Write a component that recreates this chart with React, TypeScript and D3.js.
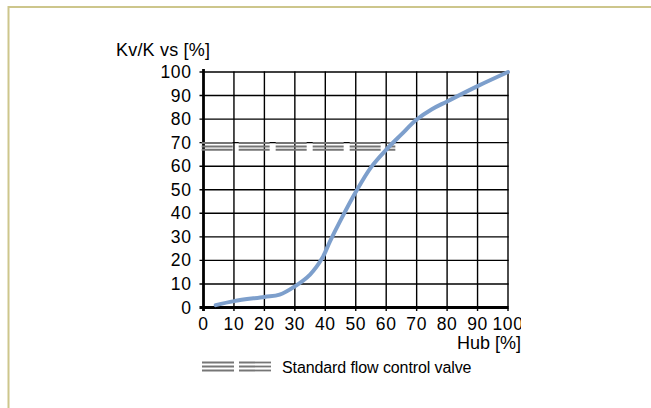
import { useEffect, useRef } from 'react'
import * as d3 from 'd3'

// Kv/Kvs characteristic
const hub = [4, 10, 20, 25, 30, 35, 39, 41.5, 45, 50, 55, 60, 65, 70, 75, 80, 90, 100]
const kv = [1, 2.7, 4.5, 5.5, 9, 14, 21, 28, 37, 49, 59.5, 67, 73.5, 79.8, 84.2, 87.5, 94, 100]

// Standard flow control valve band (three grey dashed lines)
const standardLevels = [69.8, 68.4, 67]
const standardEnd = 63

const xTicks = [0, 10, 20, 30, 40, 50, 60, 70, 80, 90, 100]
const yTicks = [0, 10, 20, 30, 40, 50, 60, 70, 80, 90, 100]

const W = 651
const H = 408
const font = '"Liberation Sans", Arial, Helvetica, sans-serif'

export default function App() {
  const svgRef = useRef<SVGSVGElement>(null)

  useEffect(() => {
    if (!svgRef.current) return
    document.body.style.margin = '0'
    const svg = d3.select(svgRef.current)
    svg.selectAll('*').remove()

    // frame (top and left edges only)
    svg.append('path')
      .attr('d', `M8.5,${H} L8.5,7 L${W},7`)
      .attr('fill', 'none')
      .attr('stroke', '#cdc68c')
      .attr('stroke-width', 2)

    const x = d3.scaleLinear().domain([0, 100]).range([203.5, 508])
    const y = d3.scaleLinear().domain([0, 100]).range([307.5, 72])

    svg.append('defs').append('clipPath').attr('id', 'cut')
      .append('rect').attr('x', 0).attr('y', 0).attr('width', 521).attr('height', H)

    const g = svg.append('g')

    // grid
    g.selectAll('.vx').data(xTicks.slice(1)).enter().append('line')
      .attr('x1', d => x(d)).attr('x2', d => x(d))
      .attr('y1', y(0)).attr('y2', y(100) - 0.6)
      .attr('stroke', '#000').attr('stroke-width', 1.4)
    g.selectAll('.hy').data(yTicks.slice(1)).enter().append('line')
      .attr('x1', x(0) - 4).attr('x2', x(100) + 0.6)
      .attr('y1', d => y(d)).attr('y2', d => y(d))
      .attr('stroke', '#000').attr('stroke-width', 1.4)

    // x tick marks
    g.selectAll('.tx').data(xTicks).enter().append('line')
      .attr('x1', d => x(d)).attr('x2', d => x(d))
      .attr('y1', y(0)).attr('y2', y(0) + 3.5)
      .attr('stroke', '#000').attr('stroke-width', 1.4)

    // axes
    g.append('line')
      .attr('x1', x(0)).attr('x2', x(0))
      .attr('y1', y(0) + 3.5).attr('y2', y(100) - 3)
      .attr('stroke', '#000').attr('stroke-width', 2.8)
    g.append('line')
      .attr('x1', x(0) - 4).attr('x2', x(100) + 0.6)
      .attr('y1', y(0)).attr('y2', y(0))
      .attr('stroke', '#000').attr('stroke-width', 2.8)

    // standard flow control valve band
    g.selectAll('.std').data(standardLevels).enter().append('line')
      .attr('x1', x(-0.6)).attr('x2', x(standardEnd))
      .attr('y1', d => y(d)).attr('y2', d => y(d))
      .attr('stroke', '#767676').attr('stroke-width', 2)
      .attr('stroke-dasharray', '31 6')

    // curve
    const line = d3.line<number>()
      .x((_, i) => x(hub[i]))
      .y(d => y(d))
      .curve(d3.curveCatmullRom.alpha(0.5))
    g.append('path')
      .datum(kv)
      .attr('d', line)
      .attr('fill', 'none')
      .attr('stroke', '#7d9fcc')
      .attr('stroke-width', 4)
      .attr('stroke-linecap', 'round')

    // tick labels
    g.selectAll('.ly').data(yTicks).enter().append('text')
      .attr('x', x(0) - 12).attr('y', d => y(d) + 6)
      .attr('text-anchor', 'end')
      .style('font-family', font).style('font-size', '17.5px').style('letter-spacing', '0.6px')
      .text(d => d)
    g.append('g').attr('clip-path', 'url(#cut)')
      .selectAll('text').data(xTicks).enter().append('text')
      .attr('x', d => x(d)).attr('y', y(0) + 22)
      .attr('text-anchor', 'middle')
      .style('font-family', font).style('font-size', '17.5px').style('letter-spacing', '0.6px')
      .text(d => d)

    // axis titles
    g.append('text')
      .attr('x', 116).attr('y', 56)
      .style('font-family', font).style('font-size', '18px').style('letter-spacing', '0.2px')
      .text('Kv/K vs [%]')
    g.append('text')
      .attr('x', 521).attr('y', 349)
      .attr('text-anchor', 'end')
      .style('font-family', font).style('font-size', '18px')
      .text('Hub [%]')

    // legend
    const lg = g.append('g')
    lg.selectAll('line').data([362.5, 366.5, 370.5]).enter().append('line')
      .attr('x1', 202).attr('x2', 271)
      .attr('y1', d => d).attr('y2', d => d)
      .attr('stroke', '#767676').attr('stroke-width', 1.8)
      .attr('stroke-dasharray', '32 5')
    lg.append('text')
      .attr('x', 282).attr('y', 373)
      .style('font-family', font).style('font-size', '16px').style('letter-spacing', '-0.1px')
      .text('Standard flow control valve')
  }, [])

  return <svg ref={svgRef} width={W} height={H} style={{ display: 'block', background: '#fff' }} />
}
